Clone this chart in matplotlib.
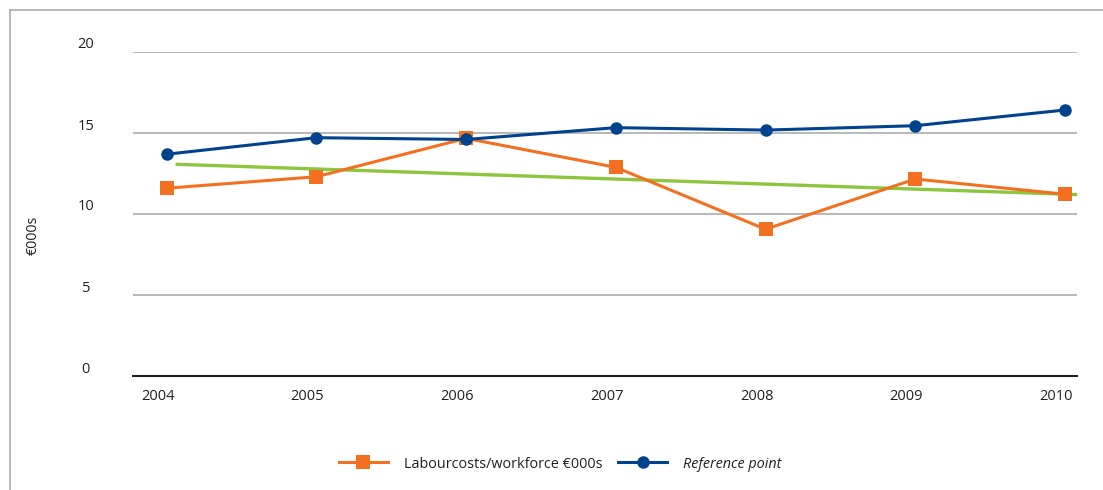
import matplotlib
matplotlib.use("Agg")
import matplotlib.pyplot as plt
import matplotlib.transforms as mtransforms
from matplotlib.lines import Line2D

plt.rcParams['font.family'] = ['Open Sans', 'DejaVu Sans']

years = [2004, 2005, 2006, 2007, 2008, 2009, 2010]
labour_costs = [11.59, 12.30, 14.67, 12.88, 9.06, 12.16, 11.22]
reference_point = [13.69, 14.71, 14.60, 15.33, 15.18, 15.45, 16.42]
trend_x = [2004.06, 2010.08]
trend_y = [13.07, 11.20]
y_ticks = [0, 5, 10, 15, 20]

ORANGE = '#F37021'
BLUE = '#00428C'
GREEN = '#8CC63F'
GRID = '#B2B2B2'
TEXT = '#231F20'

fig = plt.figure(figsize=(11.03, 4.90), dpi=100)
ax = fig.add_axes([133 / 1103, 1 - 376 / 490, (1077 - 133) / 1103, (376 - 52) / 490])

ax.plot(trend_x, trend_y, color=GREEN, lw=2.4, solid_capstyle='butt', zorder=2)
ax.plot(years, labour_costs, color=ORANGE, lw=2.2, marker='s', markersize=9.5,
        markeredgewidth=0, label='Labourcosts/workforce €000s', zorder=3)
ax.plot(years, reference_point, color=BLUE, lw=2.2, marker='o', markersize=9,
        markeredgewidth=0, label='Reference point', zorder=4)

ax.set_xlim(2004 - 0.224, 2010 + 0.08)
ax.set_ylim(0, 20)
ax.set_xticks(years)
ax.set_xticklabels([str(y) for y in years])
ax.set_yticks(y_ticks)
ax.set_yticklabels([str(v) for v in y_ticks])

for v in y_ticks[1:]:
    ax.axhline(v, color=GRID, lw=1.3, zorder=1)

for s in ('left', 'right', 'top'):
    ax.spines[s].set_visible(False)
ax.spines['bottom'].set_color('#231F20')
ax.spines['bottom'].set_linewidth(1.5)
ax.spines['bottom'].set_zorder(5)

ax.tick_params(axis='both', length=0, labelsize=10.5, labelcolor=TEXT)
ax.tick_params(axis='x', pad=9)
ax.tick_params(axis='y', pad=34)
for lbl in ax.get_yticklabels():
    lbl.set_horizontalalignment('center')
    lbl.set_transform(lbl.get_transform() +
                      mtransforms.ScaledTranslation(0, 9 / 100, fig.dpi_scale_trans))
for lbl in ax.get_xticklabels():
    lbl.set_transform(lbl.get_transform() +
                      mtransforms.ScaledTranslation(-9 / 100, 0, fig.dpi_scale_trans))

fig.text(33 / 1103, 1 - 235 / 490, '€000s', rotation=90, ha='center', va='center',
         fontsize=10.3, color=TEXT)

leg = fig.legend(loc='center', bbox_to_anchor=(560 / 1103, 1 - 464 / 490), ncol=2,
                 frameon=False, fontsize=10.4, handlelength=3.4, handletextpad=1.1,
                 columnspacing=1.1)
for t in leg.get_texts():
    t.set_color(TEXT)
leg.get_texts()[1].set_style('italic')

# outer frame
fig.add_artist(Line2D([10 / 1103, 10 / 1103], [0, 1 - 10 / 490], color='#AAAAAA', lw=1.2,
                      transform=fig.transFigure))
fig.add_artist(Line2D([10 / 1103, 1], [1 - 10 / 490, 1 - 10 / 490], color='#AAAAAA', lw=1.2,
                      transform=fig.transFigure))

fig.savefig('out.png', dpi=100)
